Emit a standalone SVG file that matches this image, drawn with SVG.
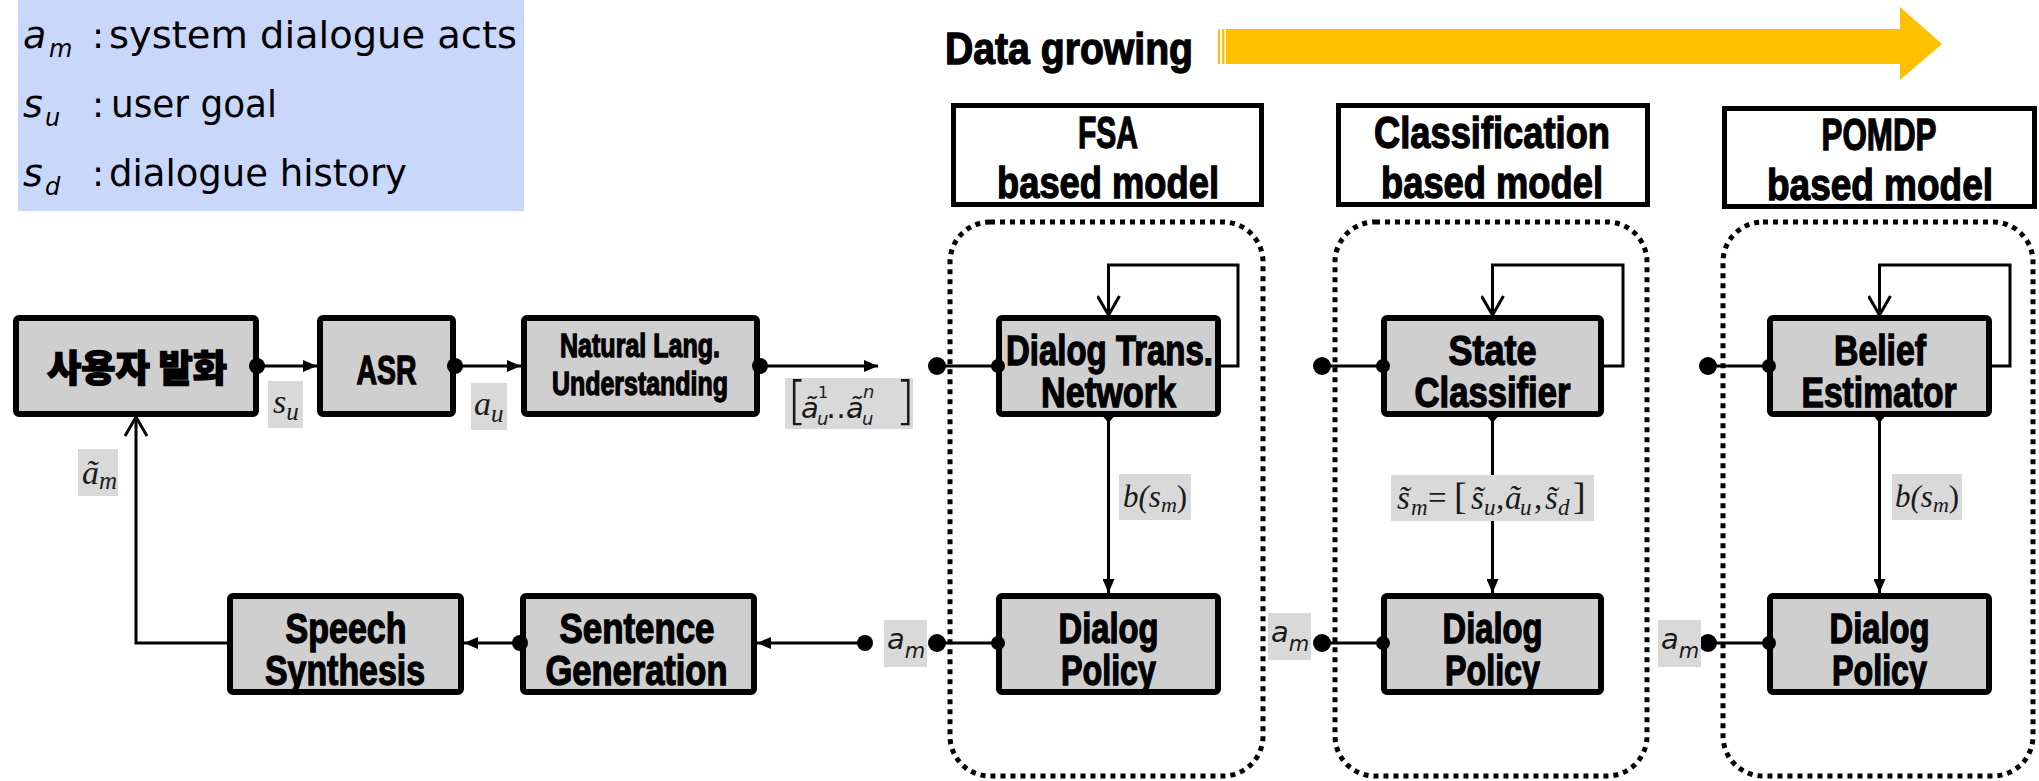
<svg xmlns="http://www.w3.org/2000/svg" width="2039" height="781" viewBox="0 0 2039 781">
<defs>
<style>
.node rect{fill:#cfcfcf;stroke:#000;stroke-width:6}
.node text,.hdr text,.title{font-family:"Liberation Sans",Arial,sans-serif;font-weight:bold;fill:#000;stroke:#000;stroke-width:1.3;text-anchor:middle}
.hdr rect{fill:#fff;stroke:#000;stroke-width:5}
.frame{fill:none;stroke:#000;stroke-width:5;stroke-dasharray:5 5}
.wire{fill:none;stroke:#000;stroke-width:3}
.dot{fill:#000}
.lbl rect{fill:#d9d9d9}
.m{font-family:"Liberation Serif","Times New Roman",serif;font-style:italic;fill:#1a1a1a}
.ms{font-family:"DejaVu Sans",sans-serif;font-style:italic;fill:#1a1a1a}
.lg{font-family:"DejaVu Sans",sans-serif;fill:#000}
</style>
<marker id="tri" markerUnits="userSpaceOnUse" viewBox="0 0 14 12" refX="14" refY="6" markerWidth="14" markerHeight="12" orient="auto"><path d="M0,0L14,6L0,12z" fill="#000"/></marker>
<marker id="vee" markerUnits="userSpaceOnUse" viewBox="0 0 22 24" refX="20" refY="12" markerWidth="22" markerHeight="24" orient="auto"><path d="M1,1L20,12L1,23" fill="none" stroke="#000" stroke-width="3"/></marker>
</defs>

<!-- legend of symbols -->
<g id="legend">
<rect x="18" y="0" width="506" height="211" fill="#c9d7fb"/>
<text class="lg" x="23" y="48" font-size="38" font-style="italic">a</text>
<text class="lg" x="49" y="57" font-size="24" font-style="italic">m</text>
<text class="lg" x="92" y="48" font-size="36">:</text>
<text class="lg" x="109" y="48" font-size="38" textLength="408" lengthAdjust="spacingAndGlyphs">system dialogue acts</text>
<text class="lg" x="23" y="117" font-size="38" font-style="italic">s</text>
<text class="lg" x="45" y="126" font-size="24" font-style="italic">u</text>
<text class="lg" x="92" y="117" font-size="36">:</text>
<text class="lg" x="111" y="117" font-size="38" textLength="166" lengthAdjust="spacingAndGlyphs">user goal</text>
<text class="lg" x="23" y="186" font-size="38" font-style="italic">s</text>
<text class="lg" x="45" y="195" font-size="24" font-style="italic">d</text>
<text class="lg" x="92" y="186" font-size="36">:</text>
<text class="lg" x="109" y="186" font-size="38" textLength="298" lengthAdjust="spacingAndGlyphs">dialogue history</text>
</g>

<!-- data growth arrow -->
<g id="growth">
<text class="title" x="945" y="64" font-size="45" style="text-anchor:start" textLength="248" lengthAdjust="spacingAndGlyphs">Data growing</text>
<rect x="1218" y="29" width="2" height="35" fill="#ffc000"/>
<rect x="1222" y="29" width="2.5" height="35" fill="#ffc000"/>
<path d="M1226,29H1900V7L1942,44L1900,80V64H1226z" fill="#ffc000"/>
</g>

<!-- model family headers -->
<g id="hdr-fsa" class="hdr">
<rect x="953.5" y="105.5" width="308" height="99"/>
<text x="1108" y="148" font-size="45" textLength="60" lengthAdjust="spacingAndGlyphs">FSA</text>
<text x="1108" y="198" font-size="45" textLength="222" lengthAdjust="spacingAndGlyphs">based model</text>
</g>
<g id="hdr-cls" class="hdr">
<rect x="1338.5" y="105.5" width="309" height="99"/>
<text x="1492" y="148" font-size="45" textLength="236" lengthAdjust="spacingAndGlyphs">Classification</text>
<text x="1492" y="198" font-size="45" textLength="222" lengthAdjust="spacingAndGlyphs">based model</text>
</g>
<g id="hdr-pomdp" class="hdr">
<rect x="1724.5" y="108.5" width="310" height="98"/>
<text x="1879" y="150" font-size="45" textLength="115" lengthAdjust="spacingAndGlyphs">POMDP</text>
<text x="1880" y="200" font-size="45" textLength="226" lengthAdjust="spacingAndGlyphs">based model</text>
</g>

<!-- dotted model frames -->
<g id="frames">
<rect class="frame" x="950" y="222" width="313" height="554" rx="40"/>
<rect class="frame" x="1335" y="222" width="312" height="554" rx="40"/>
<rect class="frame" x="1723" y="222" width="310" height="554" rx="40"/>
</g>

<!-- connectors -->
<g id="connectors" class="wire">
<path d="M257,366H317" marker-end="url(#tri)"/>
<path d="M455,366H521" marker-end="url(#tri)"/>
<path d="M760,366H878" marker-end="url(#tri)"/>
<path d="M865,643H757" marker-end="url(#tri)"/>
<path d="M520,643H464" marker-end="url(#tri)"/>
<path d="M227,643H136V417" marker-end="url(#vee)"/>
<path d="M937,366H996M937,643H996"/>
<path d="M1322,366H1381M1322,643H1381"/>
<path d="M1708,366H1767M1708,643H1767"/>
<path d="M1221,366H1238V265H1108.5V315" marker-end="url(#vee)"/>
<path d="M1604,366H1623V265H1492.5V315" marker-end="url(#vee)"/>
<path d="M1992,366H2010V265H1879.5V315" marker-end="url(#vee)"/>
<path d="M1108.5,417V593" marker-end="url(#tri)"/>
<path d="M1492.5,417V593" marker-end="url(#tri)"/>
<path d="M1879.5,417V593" marker-end="url(#tri)"/>
</g>

<!-- nodes -->
<g id="n-user" class="node">
<rect x="16" y="318" width="240" height="96" rx="3"/>
<text x="137" y="382" font-size="37" style="font-family:'Noto Sans CJK KR',sans-serif;font-weight:900" textLength="180" lengthAdjust="spacingAndGlyphs">사용자 발화</text>
</g>
<g id="n-asr" class="node">
<rect x="320" y="318" width="133" height="96" rx="3"/>
<text x="386.5" y="384" font-size="40" textLength="60" lengthAdjust="spacingAndGlyphs">ASR</text>
</g>
<g id="n-nlu" class="node">
<rect x="524" y="318" width="233" height="96" rx="3"/>
<text x="640" y="357" font-size="33" textLength="160" lengthAdjust="spacingAndGlyphs">Natural Lang.</text>
<text x="640" y="395" font-size="33" textLength="176" lengthAdjust="spacingAndGlyphs">Understanding</text>
</g>
<g id="n-dtn" class="node">
<rect x="999" y="318" width="219" height="96" rx="3"/>
<text x="1109.5" y="365" font-size="42" textLength="207" lengthAdjust="spacingAndGlyphs">Dialog Trans.</text>
<text x="1108.5" y="407" font-size="42" textLength="135" lengthAdjust="spacingAndGlyphs">Network</text>
</g>
<g id="n-sc" class="node">
<rect x="1384" y="318" width="217" height="96" rx="3"/>
<text x="1492.5" y="365" font-size="42" textLength="88" lengthAdjust="spacingAndGlyphs">State</text>
<text x="1492.5" y="407" font-size="42" textLength="156" lengthAdjust="spacingAndGlyphs">Classifier</text>
</g>
<g id="n-be" class="node">
<rect x="1770" y="318" width="219" height="96" rx="3"/>
<text x="1880" y="365" font-size="42" textLength="92" lengthAdjust="spacingAndGlyphs">Belief</text>
<text x="1879" y="407" font-size="42" textLength="155" lengthAdjust="spacingAndGlyphs">Estimator</text>
</g>
<g id="n-tts" class="node">
<rect x="230" y="596" width="231" height="96" rx="3"/>
<text x="346" y="643" font-size="42" textLength="121" lengthAdjust="spacingAndGlyphs">Speech</text>
<text x="345" y="685" font-size="42" textLength="160" lengthAdjust="spacingAndGlyphs">Synthesis</text>
</g>
<g id="n-nlg" class="node">
<rect x="523" y="596" width="231" height="96" rx="3"/>
<text x="637" y="643" font-size="42" textLength="155" lengthAdjust="spacingAndGlyphs">Sentence</text>
<text x="636.5" y="685" font-size="42" textLength="182" lengthAdjust="spacingAndGlyphs">Generation</text>
</g>
<g id="n-dp-fsa" class="node">
<rect x="999" y="596" width="219" height="96" rx="3"/>
<text x="1108.5" y="643" font-size="42" textLength="100" lengthAdjust="spacingAndGlyphs">Dialog</text>
<text x="1108.5" y="685" font-size="42" textLength="95" lengthAdjust="spacingAndGlyphs">Policy</text>
</g>
<g id="n-dp-cls" class="node">
<rect x="1384" y="596" width="217" height="96" rx="3"/>
<text x="1492.5" y="643" font-size="42" textLength="100" lengthAdjust="spacingAndGlyphs">Dialog</text>
<text x="1492.5" y="685" font-size="42" textLength="95" lengthAdjust="spacingAndGlyphs">Policy</text>
</g>
<g id="n-dp-pomdp" class="node">
<rect x="1770" y="596" width="219" height="96" rx="3"/>
<text x="1879.5" y="643" font-size="42" textLength="100" lengthAdjust="spacingAndGlyphs">Dialog</text>
<text x="1879.5" y="685" font-size="42" textLength="95" lengthAdjust="spacingAndGlyphs">Policy</text>
</g>

<!-- port dots -->
<g id="ports" class="dot">
<circle cx="257" cy="366" r="8"/>
<circle cx="455" cy="366" r="8"/>
<circle cx="760" cy="366" r="8"/>
<circle cx="865" cy="643" r="8"/>
<circle cx="520" cy="643" r="8"/>
<circle cx="937" cy="366" r="9"/><circle cx="998" cy="366" r="7"/>
<circle cx="937" cy="643" r="9"/><circle cx="998" cy="643" r="7"/>
<circle cx="1322" cy="366" r="9"/><circle cx="1383" cy="366" r="7"/>
<circle cx="1322" cy="643" r="9"/><circle cx="1383" cy="643" r="7"/>
<circle cx="1708" cy="366" r="9"/><circle cx="1769" cy="366" r="7"/>
<circle cx="1708" cy="643" r="9"/><circle cx="1769" cy="643" r="7"/>
<path d="M1108.5,411l5,6l-5,6l-5,-6z"/>
<path d="M1492.5,411l5,6l-5,6l-5,-6z"/>
<path d="M1879.5,411l5,6l-5,6l-5,-6z"/>
</g>

<!-- signal labels -->
<g id="lbl-su" class="lbl">
<rect x="268" y="381" width="35" height="47"/>
<text class="m" x="273" y="413" font-size="34">s<tspan font-size="25" dy="7">u</tspan></text>
</g>
<g id="lbl-au" class="lbl">
<rect x="471" y="383" width="36" height="47"/>
<text class="m" x="474" y="415" font-size="34">a<tspan font-size="25" dy="7">u</tspan></text>
</g>
<g id="lbl-am-tilde" class="lbl">
<rect x="78" y="449" width="40" height="47"/>
<text class="m" x="82" y="484" font-size="34">ã<tspan font-size="25" dy="5">m</tspan></text>
</g>
<g id="lbl-hyp" class="lbl">
<rect x="785" y="378" width="128" height="51"/>
<text class="ms" x="787" y="418" font-size="52" style="font-style:normal;font-weight:200">[</text>
<text class="ms" x="801" y="418" font-size="29">ã</text>
<text class="ms" x="818" y="398" font-size="16" style="font-style:normal">1</text>
<text class="ms" x="817" y="425" font-size="18">u</text>
<text class="ms" x="826" y="418" font-size="30" style="font-style:normal">…</text>
<text class="ms" x="846" y="418" font-size="29">ã</text>
<text class="ms" x="863" y="398" font-size="18">n</text>
<text class="ms" x="862" y="425" font-size="18">u</text>
<text class="ms" x="895" y="418" font-size="52" style="font-style:normal;font-weight:200">]</text>
</g>
<g id="lbl-b-fsa" class="lbl">
<rect x="1119" y="474" width="72" height="46"/>
<text class="m" x="1123" y="507" font-size="31">b(s<tspan font-size="22" dy="5">m</tspan><tspan dy="-5" style="font-style:normal">)</tspan></text>
</g>
<g id="lbl-state" class="lbl">
<rect x="1391" y="475" width="203" height="46"/>
<text class="m" font-size="33" y="509">
<tspan x="1397">s&#x303;</tspan><tspan x="1411" dy="6" font-size="23">m</tspan>
<tspan x="1428" dy="-6" style="font-style:normal">=</tspan>
<tspan x="1454" font-size="38" style="font-style:normal">[</tspan>
<tspan x="1471">s&#x303;</tspan><tspan x="1484" dy="6" font-size="23">u</tspan>
<tspan x="1496" dy="-6" style="font-style:normal">,</tspan>
<tspan x="1505">ã</tspan><tspan x="1520" dy="6" font-size="23">u</tspan>
<tspan x="1534" dy="-6" style="font-style:normal">,</tspan>
<tspan x="1545">s&#x303;</tspan><tspan x="1558" dy="6" font-size="23">d</tspan>
<tspan x="1573" dy="-6" font-size="38" style="font-style:normal">]</tspan>
</text>
</g>
<g id="lbl-b-pomdp" class="lbl">
<rect x="1892" y="474" width="70" height="46"/>
<text class="m" x="1895" y="507" font-size="31">b(s<tspan font-size="22" dy="5">m</tspan><tspan dy="-5" style="font-style:normal">)</tspan></text>
</g>
<g id="lbl-am-fsa" class="lbl">
<rect x="884" y="620" width="43" height="47"/>
<text class="ms" x="887" y="649" font-size="29">a<tspan font-size="21" dy="9">m</tspan></text>
</g>
<g id="lbl-am-cls" class="lbl">
<rect x="1268" y="613" width="43" height="47"/>
<text class="ms" x="1271" y="642" font-size="29">a<tspan font-size="21" dy="9">m</tspan></text>
</g>
<g id="lbl-am-pomdp" class="lbl">
<rect x="1658" y="620" width="43" height="47"/>
<text class="ms" x="1661" y="649" font-size="29">a<tspan font-size="21" dy="9">m</tspan></text>
</g>
</svg>
